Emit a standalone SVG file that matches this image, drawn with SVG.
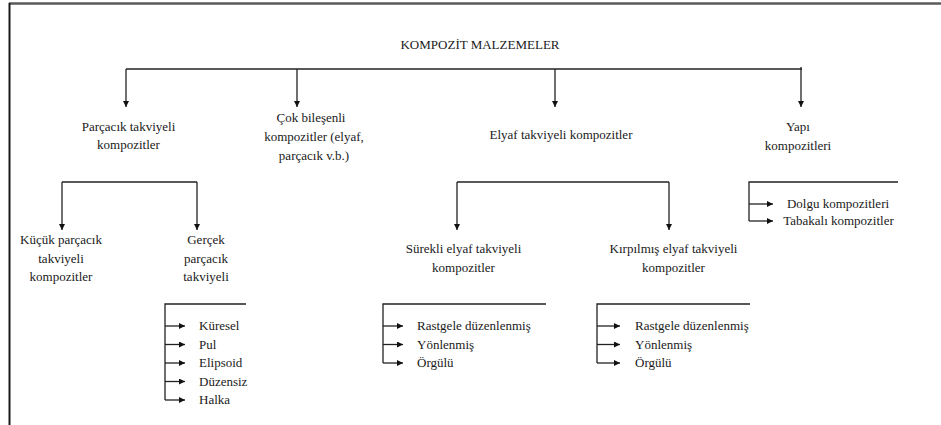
<svg xmlns="http://www.w3.org/2000/svg" width="941" height="425" viewBox="0 0 941 425" font-family="Liberation Serif" font-size="13">
  <defs>
    <marker id="arrow" viewBox="0 0 10 10" refX="10" refY="5" markerWidth="6" markerHeight="6" markerUnits="userSpaceOnUse" orient="auto">
      <path d="M0,0 L10,5 L0,10 Z" fill="#111"/>
    </marker>
    <style>
      text { fill: #1a1a1a; }
      .c { text-anchor: middle; }
      .wire { fill: none; stroke: #222; stroke-width: 1.3; }
      .arr { fill: none; stroke: #222; stroke-width: 1.3; marker-end: url(#arrow); }
      .frame-top { stroke: #5a5a5a; stroke-width: 2.4; }
      .frame-left { stroke: #1a1a1a; stroke-width: 2; }
    </style>
  </defs>
  <rect width="941" height="425" fill="#fff"/>

  <!-- page frame -->
  <line class="frame-top" x1="9" y1="3.5" x2="941" y2="3.5"/>
  <line class="frame-left" x1="9.5" y1="3" x2="9.5" y2="425"/>

  <!-- connectors -->
  <g id="connectors">
    <!-- root to main categories -->
    <path class="wire" d="M126,69 H802"/>
    <line class="arr" x1="126" y1="69" x2="126" y2="107"/>
    <line class="arr" x1="297" y1="69" x2="297" y2="107"/>
    <line class="arr" x1="555" y1="69" x2="555" y2="107"/>
    <line class="arr" x1="801" y1="67" x2="801" y2="107"/>

    <!-- particle reinforced branch -->
    <path class="wire" d="M62,182 H197"/>
    <line class="arr" x1="62" y1="182" x2="62" y2="230"/>
    <line class="arr" x1="197" y1="182" x2="197" y2="230"/>

    <!-- shapes list -->
    <path class="wire" d="M246,304 H165 V400"/>
    <line class="arr" x1="165" y1="326" x2="185" y2="326"/>
    <line class="arr" x1="165" y1="344.5" x2="185" y2="344.5"/>
    <line class="arr" x1="165" y1="363" x2="185" y2="363"/>
    <line class="arr" x1="165" y1="381.5" x2="185" y2="381.5"/>
    <line class="arr" x1="165" y1="400" x2="185" y2="400"/>

    <!-- fibre reinforced branch -->
    <path class="wire" d="M457,182 H669"/>
    <line class="arr" x1="457" y1="182" x2="457" y2="230"/>
    <line class="arr" x1="669" y1="182" x2="669" y2="230"/>

    <!-- continuous fibre list -->
    <path class="wire" d="M546,304 H383 V363"/>
    <line class="arr" x1="383" y1="326" x2="403" y2="326"/>
    <line class="arr" x1="383" y1="344.5" x2="403" y2="344.5"/>
    <line class="arr" x1="383" y1="363" x2="403" y2="363"/>

    <!-- chopped fibre list -->
    <path class="wire" d="M750,304 H597 V363"/>
    <line class="arr" x1="597" y1="326" x2="620" y2="326"/>
    <line class="arr" x1="597" y1="344.5" x2="620" y2="344.5"/>
    <line class="arr" x1="597" y1="363" x2="620" y2="363"/>

    <!-- structural list -->
    <path class="wire" d="M898,182 H749 V221"/>
    <line class="arr" x1="749" y1="204" x2="773" y2="204"/>
    <line class="arr" x1="749" y1="221" x2="773" y2="221"/>
  </g>

  <!-- nodes -->
  <g id="root">
    <text class="c" x="480" y="49">KOMPOZİT MALZEMELER</text>
  </g>

  <g id="parcacik">
    <text class="c" x="128.5" y="131">Parçacık takviyeli</text>
    <text class="c" x="128.5" y="149">kompozitler</text>
  </g>

  <g id="cok-bilesenli">
    <text class="c" x="311" y="122">Çok bileşenli</text>
    <text class="c" x="314" y="141">kompozitler (elyaf,</text>
    <text class="c" x="314" y="160">parçacık v.b.)</text>
  </g>

  <g id="elyaf">
    <text class="c" x="561" y="139">Elyaf takviyeli kompozitler</text>
  </g>

  <g id="yapi">
    <text class="c" x="798" y="131">Yapı</text>
    <text class="c" x="798" y="150">kompozitleri</text>
  </g>

  <g id="kucuk-parcacik">
    <text class="c" x="61" y="244">Küçük parçacık</text>
    <text class="c" x="61" y="263">takviyeli</text>
    <text class="c" x="61" y="281">kompozitler</text>
  </g>

  <g id="gercek-parcacik">
    <text class="c" x="206" y="244">Gerçek</text>
    <text class="c" x="206" y="263">parçacık</text>
    <text class="c" x="206" y="281">takviyeli</text>
  </g>

  <g id="sekiller">
    <text x="199" y="330">Küresel</text>
    <text x="199" y="348.5">Pul</text>
    <text x="199" y="367">Elipsoid</text>
    <text x="199" y="385.5">Düzensiz</text>
    <text x="199" y="404">Halka</text>
  </g>

  <g id="surekli-elyaf">
    <text class="c" x="463.5" y="253">Sürekli elyaf takviyeli</text>
    <text class="c" x="463.5" y="272">kompozitler</text>
  </g>

  <g id="kirpilmis-elyaf">
    <text class="c" x="673.5" y="253">Kırpılmış elyaf takviyeli</text>
    <text class="c" x="673.5" y="272">kompozitler</text>
  </g>

  <g id="surekli-duzen">
    <text x="417" y="330">Rastgele düzenlenmiş</text>
    <text x="417" y="348.5">Yönlenmiş</text>
    <text x="417" y="367">Örgülü</text>
  </g>

  <g id="kirpilmis-duzen">
    <text x="635" y="330">Rastgele düzenlenmiş</text>
    <text x="635" y="348.5">Yönlenmiş</text>
    <text x="635" y="367">Örgülü</text>
  </g>

  <g id="yapi-turleri">
    <text class="c" x="838" y="208">Dolgu kompozitleri</text>
    <text class="c" x="838.5" y="225">Tabakalı kompozitler</text>
  </g>
</svg>
